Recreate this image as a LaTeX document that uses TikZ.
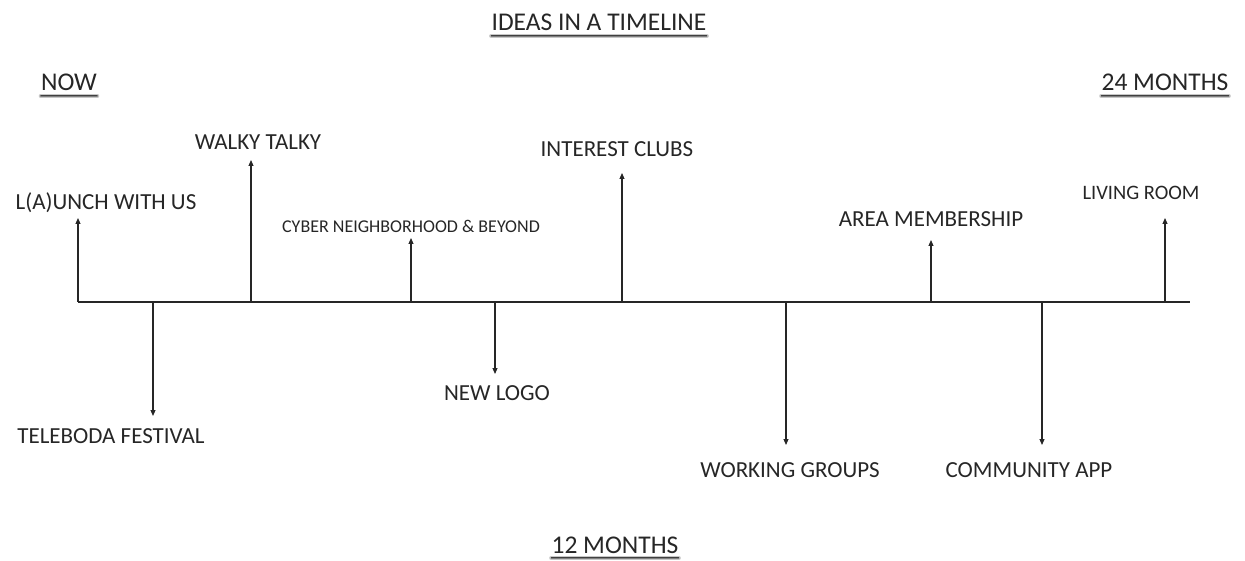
\documentclass[tikz,border=0pt]{standalone}
\usepackage{fontspec}
\setmainfont{Carlito}
\usetikzlibrary{arrows.meta}
\begin{document}
\begin{tikzpicture}[x=1pt,y=-1pt,
  lbl/.style={inner sep=0pt,anchor=base,font=\fontsize{23}{26}\selectfont,text=black!85},
  sml/.style={lbl,font=\fontsize{18}{21}\selectfont},
  mid/.style={lbl,font=\fontsize{20.5}{23}\selectfont},
  ttl/.style={lbl,font=\fontsize{25.5}{29}\selectfont},
  axis/.style={line width=1.3pt,black!85},
  arr/.style={line width=1.1pt,black!85,-{Triangle[width=5pt,length=6pt]}},
  ul/.style={line cap=round}]
\useasboundingbox (0,0) rectangle (1245,561);
% titles
\node[ttl] (title) at (599,31) {IDEAS IN A TIMELINE};
\node[ttl] (now) at (69,91) {NOW};
\node[ttl] (m24) at (1165,91) {24 MONTHS};
\node[ttl] (m12) at (615,553) {12 MONTHS};
\foreach \n in {title,now,m24,m12}{
  \draw[ul,line width=4.5pt,black!22] ([yshift=-5pt]\n.base west) -- ([yshift=-5pt]\n.base east);
  \draw[ul,line width=2.2pt,black!50] ([yshift=-5pt]\n.base west) -- ([yshift=-5pt]\n.base east);
  \draw[ul,line width=0.8pt,black!75] ([yshift=-4.5pt]\n.base west) -- ([yshift=-4.5pt]\n.base east);
}
% axis
\coordinate (a0) at (78,302);
\coordinate (a1) at (1190,302);
\draw[axis] (a0) -- (a1);
% base points
\coordinate (b1) at (78,302);
\coordinate (b2) at (153,302);
\coordinate (b3) at (251,302);
\coordinate (b4) at (411,302);
\coordinate (b5) at (495,302);
\coordinate (b6) at (622,302);
\coordinate (b7) at (786,302);
\coordinate (b8) at (931,302);
\coordinate (b9) at (1042,302);
\coordinate (b10) at (1165,302);
% labels
\node[lbl] (l1) at (106,210) {L(A)UNCH WITH US};
\node[lbl] (l2) at (111,443) {TELEBODA FESTIVAL};
\node[lbl] (l3) at (258,150) {WALKY TALKY};
\node[sml] (l4) at (411,233) {CYBER NEIGHBORHOOD \& BEYOND};
\node[lbl] (l5) at (497,400) {NEW LOGO};
\node[lbl] (l6) at (617,157) {INTEREST CLUBS};
\node[lbl] (l7) at (790,477) {WORKING GROUPS};
\node[lbl] (l8) at (931,227) {AREA MEMBERSHIP};
\node[lbl] (l9) at (1029,477) {COMMUNITY APP};
\node[mid] (l10) at (1141,200) {LIVING ROOM};
% connectors
\coordinate (t1) at (78,218);
\coordinate (t2) at (153,416);
\coordinate (t3) at (251,160);
\coordinate (t4) at (411,238);
\coordinate (t5) at (495,374);
\coordinate (t6) at (622,173);
\coordinate (t7) at (786,445);
\coordinate (t8) at (931,240);
\coordinate (t9) at (1042,445);
\coordinate (t10) at (1165,218);
\foreach \i in {1,...,10}{
  \draw[arr] (b\i) -- (t\i);
}
\end{tikzpicture}
\end{document}
